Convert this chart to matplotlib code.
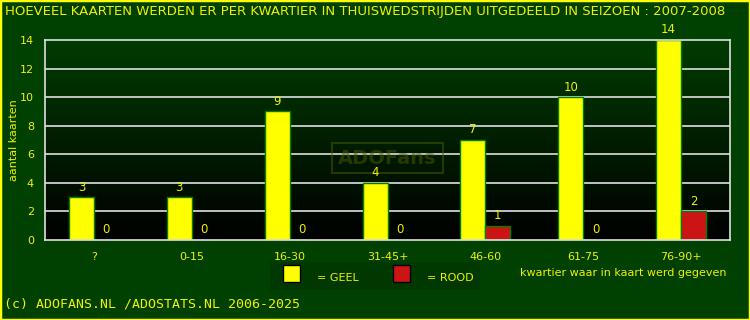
import numpy as np
import matplotlib
matplotlib.use("Agg")
import matplotlib.pyplot as plt
from matplotlib.patches import Rectangle
from matplotlib.colors import LinearSegmentedColormap

categories = ["?", "0-15", "16-30", "31-45+", "46-60", "61-75", "76-90+"]
geel = [3, 3, 9, 4, 7, 10, 14]
rood = [0, 0, 0, 0, 1, 0, 2]
yticks = [0, 2, 4, 6, 8, 10, 12, 14]

BG = "#004000"
YEL = "#ffff00"
RED = "#cc1414"
TXT = "#f0f000"

W, H = 750, 320
fig = plt.figure(figsize=(7.5, 3.2), dpi=100, facecolor=BG)
ax = fig.add_axes([45 / W, 80 / H, 685 / W, 200 / H])
ax.set_facecolor("black")
ax.set_xlim(-0.5, 6.5)
ax.set_ylim(0, 14)

# gradient background
grad = np.linspace(0, 1, 256).reshape(-1, 1)
cmap = LinearSegmentedColormap.from_list("g", ["#000000", "#003c00"])
ax.imshow(grad, aspect="auto", cmap=cmap, origin="lower",
          extent=[0, 1, 0, 1], transform=ax.transAxes, zorder=0)

for yv in yticks[1:-1]:
    ax.axhline(yv, color="#e0e0e0", lw=1.2, zorder=1)

x = np.arange(len(categories))
w = 0.255
ax.bar(x - w / 2, geel, width=w, color=YEL, edgecolor="#008000", lw=1, zorder=2)
ax.bar(x + w / 2, rood, width=w, color=RED, edgecolor="#008000", lw=1, zorder=2)

for xi, v in zip(x - w / 2, geel):
    ax.text(xi, v + 0.25, str(v), color=TXT, fontsize=8.5, ha="center", va="bottom", zorder=3)
for xi, v in zip(x + w / 2, rood):
    ax.text(xi, v + 0.25, str(v), color=TXT, fontsize=8.5, ha="center", va="bottom", zorder=3)

for s in ax.spines.values():
    s.set_color("#e0e0e0")
    s.set_linewidth(1.2)

ax.set_yticks(yticks)
ax.set_yticklabels([str(t) for t in yticks])
ax.set_xticks(x)
ax.set_xticklabels(categories)
ax.tick_params(colors=TXT, labelcolor=TXT, labelsize=8, length=0)
ax.tick_params(axis="x", pad=9)
ax.tick_params(axis="y", pad=8)
ax.set_ylabel("aantal kaarten", color=TXT, fontsize=8)
ax.yaxis.set_label_coords(-0.038, 0.5)

# watermark
ax.text(0.5, 0.41, "ADOFans", transform=ax.transAxes, ha="center", va="center",
        fontsize=14, fontweight="bold", color="#4a5a00", alpha=0.5, zorder=1.5,
        bbox=dict(boxstyle="square,pad=0.3", fc="none", ec="#4a5a00", lw=1.5, alpha=0.5))

# title
fig.text(5 / W, 1 - 12 / H, "HOEVEEL KAARTEN WERDEN ER PER KWARTIER IN THUISWEDSTRIJDEN UITGEDEELD IN SEIZOEN : 2007-2008",
         color=TXT, fontsize=9.55, ha="left", va="center")

# legend
fig.patches.append(Rectangle((270 / W, 1 - 290 / H), 210 / W, 28 / H, transform=fig.transFigure,
                             fc="#003800", ec="none", zorder=1))
fig.patches.append(Rectangle((283 / W, 1 - 282 / H), 17 / W, 17 / H, transform=fig.transFigure,
                             fc=YEL, ec="black", lw=1, zorder=2))
fig.patches.append(Rectangle((393 / W, 1 - 282 / H), 17 / W, 17 / H, transform=fig.transFigure,
                             fc=RED, ec="black", lw=1, zorder=2))
fig.text(317 / W, 1 - 278 / H, "= GEEL", color=TXT, fontsize=8, va="center")
fig.text(427 / W, 1 - 278 / H, "= ROOD", color=TXT, fontsize=8, va="center")
fig.text(727 / W, 1 - 273 / H, "kwartier waar in kaart werd gegeven", color=TXT, fontsize=8,
         ha="right", va="center")

# footer
fig.text(4 / W, 1 - 304 / H, "(c) ADOFANS.NL /ADOSTATS.NL 2006-2025", color=TXT, fontsize=9.5,
         family="DejaVu Sans Mono", ha="left", va="center")

# figure border
fig.patches.append(Rectangle((0, 0), 1, 1, transform=fig.transFigure, fc="none", ec=YEL, lw=2.5, zorder=5))

fig.savefig("out.png", dpi=100, facecolor=BG)
